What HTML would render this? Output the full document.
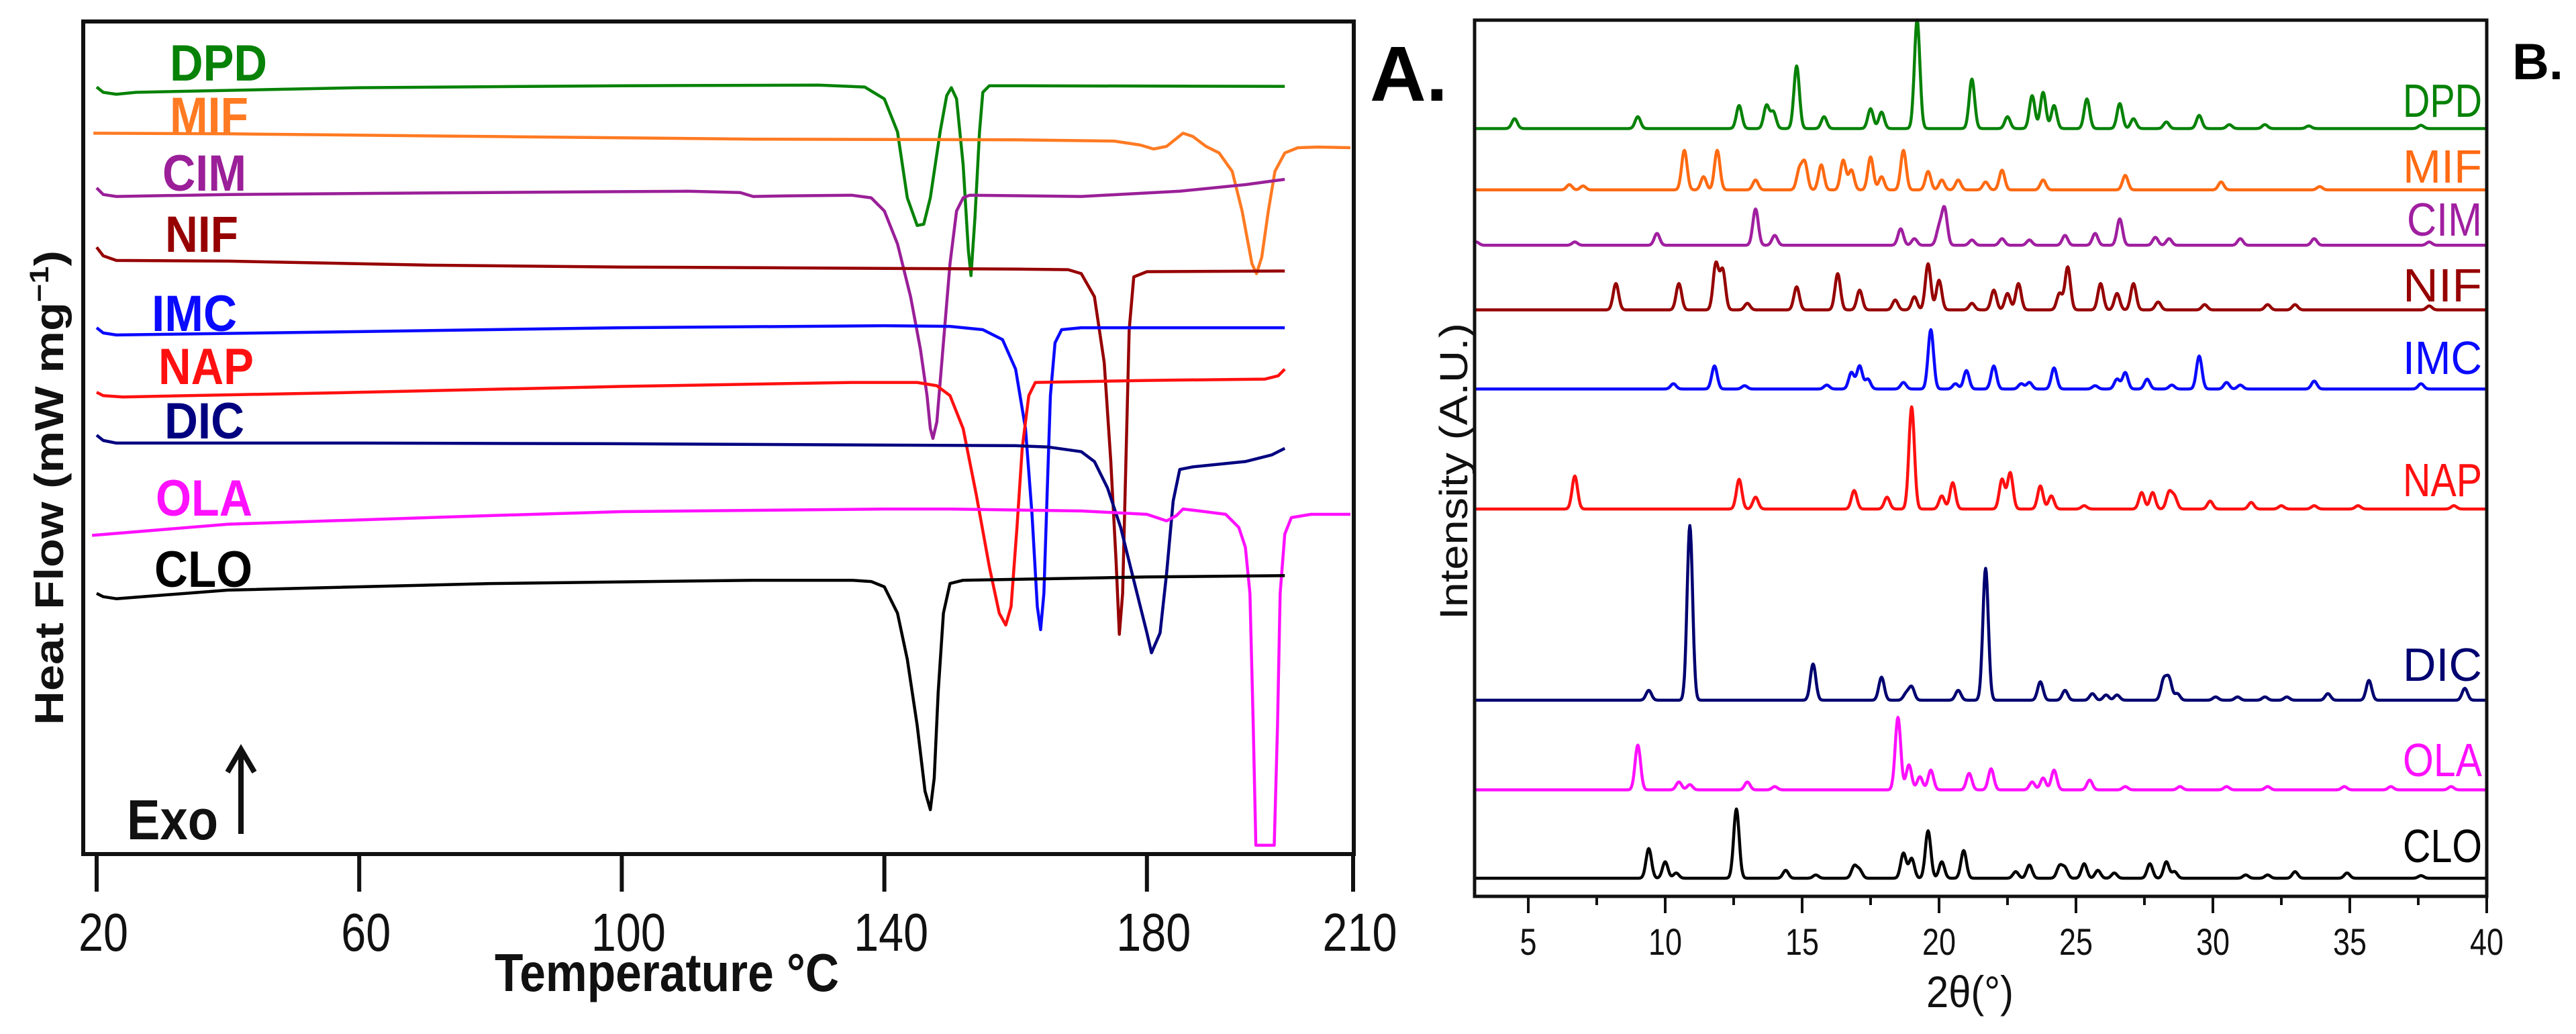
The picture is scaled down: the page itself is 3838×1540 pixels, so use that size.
<!DOCTYPE html>
<html><head><meta charset="utf-8">
<style>
html,body{margin:0;padding:0;background:#fff;}
svg{display:block;}
text{font-family:"Liberation Sans",Arial,sans-serif;}
</style></head>
<body>
<svg id="fig" width="3838" height="1540" viewBox="0 0 3838 1540" xmlns="http://www.w3.org/2000/svg">
<g id="dsc"></g>
<g id="xrd"></g>
</svg>
<script>
// ---------- DSC data (temperature °C, heat flow a.u.) ----------
const dscNames = ["DPD","MIF","CIM","NIF","IMC","NAP","DIC","OLA","CLO"];
const dscColors = ["#078207","#ff7a22","#9a1f98","#960000","#0a0aff","#ff1010","#000080","#ff10ff","#000000"];
const dscT_DPD=[20,21,23,26,60,100,130,137,140,142,143.5,145,146,147,148.5,149.5,150.2,151,152,152.8,153.2,153.8,154.5,155,156,201];
const dscV_DPD=[132,140,143,140,133,130,129,132,150,200,300,342,340,300,200,145,133,150,250,380,418,330,200,140,130,131];
const dscT_MIF=[19.5,40,80,120,160,175,179,181,183,185.5,187,189,191,193,194.5,196,196.7,197.5,198.5,199.5,201,203,206,211];
const dscV_MIF=[202,203,207,211,212,214,220,226,222,202,207,222,232,260,320,400,415,390,320,260,232,224,223,224];
const dscT_CIM=[20,21,23,40,80,110,118,120,125,135,138,140,142,144,145.5,146.5,147,147.4,148,149,150,151,152,153,170,185,195,201];
const dscV_CIM=[285,295,298,295,292,290,292,298,297,296,300,320,370,450,530,600,650,665,640,520,400,320,300,296,298,290,280,272];
const dscT_NIF=[20,21,23,40,70,100,140,160,168,170,172,173.5,174.5,175.3,175.8,176.3,176.8,177.3,178,180,201];
const dscV_NIF=[375,388,395,396,402,405,407,408,409,415,450,550,700,850,962,900,700,500,420,412,411];
const dscT_IMC=[20,21,23,60,100,140,150,155,158,160,161.5,162.5,163.3,163.8,164.3,164.8,165.3,166,167,170,201];
const dscV_IMC=[497,505,508,503,497,494,495,500,515,560,650,780,920,955,900,750,600,520,500,497,497];
const dscT_NAP=[20,21,24,60,100,135,145,148,150,152,154,156,157.5,158.5,159.3,160.2,161,162,163,180,198,200,201];
const dscV_NAP=[595,600,602,595,586,580,580,585,600,650,750,860,930,948,920,800,680,600,580,577,575,570,560];
const dscT_DIC=[20,21,23,60,100,140,160,165,170,172,174,176,178,180,180.7,182,183,184,185,187,195,199,201];
const dscV_DIC=[660,668,672,672,673,675,676,678,685,700,740,800,880,960,990,960,870,760,712,708,700,690,680];
const dscT_OLA=[19.3,40,80,100,140,150,170,180,183,184.5,185.5,188,192,194,195,195.7,196.2,196.6,199.4,199.9,200.3,201,202,205,211];
const dscV_OLA=[812,795,782,776,772,772,775,780,790,782,772,775,780,800,830,900,1100,1282,1282,1100,900,810,785,780,780];
const dscT_CLO=[20,21,23,40,80,120,135,138,140,142,143.5,145,146.2,147,147.6,148.2,149,150,152,180,201];
const dscV_CLO=[900,905,908,895,885,880,880,882,890,930,1000,1100,1200,1228,1180,1050,930,885,880,875,873];
const dscTicks=[20,60,100,140,180,210];

// ---------- XRD data (2theta deg, intensity a.u.) ----------
const xrdNames=["DPD","MIF","CIM","NIF","IMC","NAP","DIC","OLA","CLO"];
const xrdColors=["#078207","#ff6a12","#a01fa0","#960000","#0a0aff","#ff1010","#000070","#ff10ff","#000000"];
const xrdBase=[195,288,372,470,590,772,1062,1198,1332];
const xrdPos_DPD=[4.5,9,12.7,13.7,13.95,14.8,15.8,17.5,17.9,19.2,21.2,22.5,23.4,23.8,24.2,25.4,26.6,27.1,28.3,29.5,30.6,31.9,33.5,37.6];
const xrdInt_DPD=[15,18,35,35,25,95,18,30,25,165,75,18,50,55,35,45,38,15,10,20,6,6,4,5];
const xrdPos_MIF=[6.5,7,10.7,11.4,11.9,13.3,14.9,15.1,15.7,16.5,16.8,17.5,17.9,18.7,19.6,20.1,20.7,21.7,22.3,23.8,26.8,30.3,33.9];
const xrdInt_MIF=[8,6,60,20,60,15,30,40,38,45,30,50,20,60,28,15,15,12,30,15,22,12,5];
const xrdPos_CIM=[3.1,6.7,9.7,13.3,14,18.6,19.1,20,20.2,21.2,22.3,23.3,24.6,25.7,26.6,27.9,28.4,31,33.7,37.9];
const xrdInt_CIM=[5,5,18,55,15,25,10,25,55,8,10,8,15,18,40,12,10,10,10,5];
const xrdPos_NIF=[8.2,10.5,11.85,12.1,13,14.8,16.3,17.1,18.4,19.1,19.6,20,21.2,22,22.5,22.9,24.4,24.7,25.9,26.5,27.1,28,29.7,32,33,37.9];
const xrdInt_NIF=[40,40,70,60,10,35,55,30,15,20,70,45,10,30,25,40,25,65,40,25,40,12,8,8,8,6];
const xrdPos_IMC=[10.3,11.8,12.9,15.9,16.8,17.1,17.4,18.7,19.7,20.6,21,22,23,23.3,24.2,25.7,26.5,26.8,27.6,28.5,29.5,30.5,31,33.7,37.6];
const xrdInt_IMC=[8,35,5,6,25,35,15,10,90,8,28,35,8,10,32,5,15,25,15,6,50,10,6,12,8];
const xrdPos_NAP=[6.7,12.7,13.3,16.9,18.1,19,20.1,20.5,22.3,22.6,23.7,24.1,25.3,27.4,27.8,28.4,28.6,29.9,31.4,32.5,33.7,35.3,38.8];
const xrdInt_NAP=[50,45,18,28,18,155,20,40,45,55,35,20,5,25,25,25,18,12,10,5,5,5,5];
const xrdPos_DIC=[9.4,10.9,15.4,17.9,18.8,19,20.7,21.7,23.7,24.6,25.6,26.1,26.5,28.2,28.4,28.7,30.1,30.9,31.9,32.7,34.2,35.7,39.2];
const xrdInt_DIC=[15,265,55,35,10,20,15,200,28,15,10,8,8,30,32,10,5,5,5,5,10,30,18];
const xrdPos_OLA=[9,10.5,10.9,13,14,18.5,18.9,19.3,19.7,21.1,21.9,23.4,23.8,24.2,25.5,26.8,28.8,30.5,32,34.8,36.5,38.7];
const xrdInt_OLA=[68,12,8,12,5,110,38,20,30,25,32,12,18,30,15,5,5,5,5,5,5,5];
const xrdPos_CLO=[9.4,10,10.4,12.6,14.4,15.5,16.9,17.1,18.7,19,19.6,20.1,20.9,22.8,23.3,24.4,24.6,25.3,25.8,26.4,27.7,28.3,28.6,31.2,32,33,34.9,37.6];
const xrdInt_CLO=[45,25,8,105,12,5,18,12,38,30,72,25,42,10,20,18,15,22,12,8,22,25,10,5,5,10,8,4];
const xrdTicks=[5,10,15,20,25,30,35,40];

const NS="http://www.w3.org/2000/svg";
function mk(parent,tag,attrs,txt){const e=document.createElementNS(NS,tag);for(const k in attrs)e.setAttribute(k,attrs[k]);if(txt!==undefined)e.textContent=txt;parent.appendChild(e);return e;}

// ---------- DSC panel ----------
const dsc=document.getElementById('dsc');
const tx=T=>144+(T-20)*9.78;
const vy=v=>v*0.982;
const dscT=[dscT_DPD,dscT_MIF,dscT_CIM,dscT_NIF,dscT_IMC,dscT_NAP,dscT_DIC,dscT_OLA,dscT_CLO];
const dscV=[dscV_DPD,dscV_MIF,dscV_CIM,dscV_NIF,dscV_IMC,dscV_NAP,dscV_DIC,dscV_OLA,dscV_CLO];
const dscLabelPos=[[253,120,145],[253,198,117],[242,284,125],[246,375,109],[226,493,127],[236,572,142],[245,653,119],[232,768,144],[230,874,146]];
for(let i=0;i<dscNames.length;i++){
  let d='';
  for(let j=0;j<dscT[i].length;j++){d+=(j?'L':'M')+tx(dscT[i][j]).toFixed(1)+','+vy(dscV[i][j]).toFixed(1);}
  const p=mk(dsc,'path',{d:d,fill:'none',stroke:dscColors[i],'stroke-width':4.5,'stroke-linejoin':'round'});
  
  
  const lp=dscLabelPos[i];
  const t=mk(dsc,'text',{x:lp[0],y:lp[1],'font-size':76,'font-weight':'bold',fill:dscColors[i],textLength:lp[2],lengthAdjust:'spacingAndGlyphs'},dscNames[i]);
  
  
}
const f1=mk(dsc,'rect',{x:124,y:32,width:1893,height:1240,fill:'none',stroke:'#111','stroke-width':6});


for(const T of dscTicks){
  const x=T===210?2016:tx(T);
  const l=mk(dsc,'line',{x1:x,y1:1272,x2:x,y2:1328,stroke:'#111','stroke-width':6});
  
  
  const s=String(T);
  const lt=mk(dsc,'text',{x:x+10,y:1416,'font-size':80,'text-anchor':'middle',fill:'#111',textLength:s.length*37,lengthAdjust:'spacingAndGlyphs'},s);
  
  
}
const xt=mk(dsc,'text',{x:737,y:1476,'font-size':80,'font-weight':'bold',fill:'#111',textLength:513,lengthAdjust:'spacingAndGlyphs'},'Temperature °C');


const yt=mk(dsc,'text',{x:0,y:0,'font-size':60,'font-weight':'bold',fill:'#111',transform:'translate(94,1080) rotate(-90)',textLength:707,lengthAdjust:'spacingAndGlyphs'});


yt.innerHTML='Heat Flow (mW mg<tspan dy="-22" font-size="40">−1</tspan><tspan dy="22">)</tspan>';
const exo=mk(dsc,'text',{x:189,y:1250,'font-size':84,'font-weight':'bold',fill:'#111',textLength:136,lengthAdjust:'spacingAndGlyphs'},'Exo');


const ar=mk(dsc,'path',{d:'M359,1242 L359,1120 M339,1150 L359,1116 L379,1150',fill:'none',stroke:'#111','stroke-width':8});


const pa=mk(dsc,'text',{x:2041,y:150,'font-size':116,'font-weight':'bold',fill:'#000'},'A.');



// ---------- XRD panel ----------
const xrd=document.getElementById('xrd');
const ax=t=>2277+(t-5)*40.8;
const xrdPos=[xrdPos_DPD,xrdPos_MIF,xrdPos_CIM,xrdPos_NIF,xrdPos_IMC,xrdPos_NAP,xrdPos_DIC,xrdPos_OLA,xrdPos_CLO];
const xrdInt=[xrdInt_DPD,xrdInt_MIF,xrdInt_CIM,xrdInt_NIF,xrdInt_IMC,xrdInt_NAP,xrdInt_DIC,xrdInt_OLA,xrdInt_CLO];
const xrdLabelY=[174,272,351,449,557,739,1014,1156,1284];
for(let i=0;i<xrdNames.length;i++){
  let d='';
  let first=true;
  for(let t=3;t<=40.001;t+=0.025){
    let v=0;
    for(let k=0;k<xrdPos[i].length;k++){const z=(t-xrdPos[i][k])/0.1;v+=xrdInt[i][k]*Math.exp(-0.5*z*z);}
    d+=(first?'M':'L')+ax(t).toFixed(1)+','+vy(xrdBase[i]-v).toFixed(1);first=false;
  }
  const p=mk(xrd,'path',{d:d,fill:'none',stroke:xrdColors[i],'stroke-width':4.5,'stroke-linejoin':'round'});
  
  
  const lt=mk(xrd,'text',{x:3698,y:xrdLabelY[i],'font-size':70,'text-anchor':'end',fill:xrdColors[i],textLength:(xrdNames[i]==='CIM'?112:118),lengthAdjust:'spacingAndGlyphs'},xrdNames[i]);
  
  
}
const f2=mk(xrd,'rect',{x:2197,y:30,width:1508,height:1305,fill:'none',stroke:'#111','stroke-width':5});


for(let t=5;t<=40;t+=2.5){
  const major=(t%5===0);
  const l=mk(xrd,'line',{x1:ax(t),y1:1335,x2:ax(t),y2:major?1360:1348,stroke:'#111','stroke-width':4});
  
  
}
for(const t of xrdTicks){
  const s=String(t);
  const lt=mk(xrd,'text',{x:ax(t),y:1422,'font-size':56,'text-anchor':'middle',fill:'#111',textLength:s.length*25,lengthAdjust:'spacingAndGlyphs'},s);
  
  
}
const xt2=mk(xrd,'text',{x:2870,y:1500,'font-size':66,fill:'#111',textLength:130,lengthAdjust:'spacingAndGlyphs'},'2θ(°)');


const yt2=mk(xrd,'text',{x:0,y:0,'font-size':58,fill:'#111',transform:'translate(2186,923) rotate(-90)',textLength:442,lengthAdjust:'spacingAndGlyphs'},'Intensity (A.U.)');


const pb=mk(xrd,'text',{x:3743,y:118,'font-size':76,'font-weight':'bold',fill:'#000'},'B.');


</script>
</body></html>
